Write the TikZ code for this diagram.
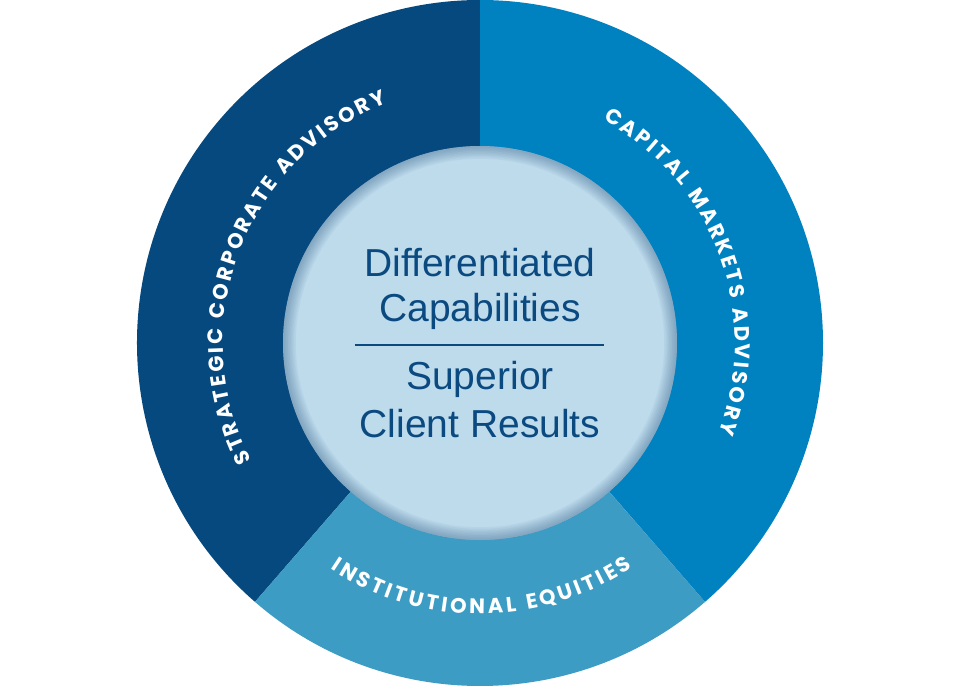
\documentclass[tikz,border=0pt]{standalone}
\usepackage{fontspec}
\setmainfont{Liberation Sans}
\newfontfamily\labfont{Poppins}
\usetikzlibrary{decorations.text}
\definecolor{segL}{HTML}{05497F}
\definecolor{segR}{HTML}{0082C1}
\definecolor{segB}{HTML}{3D9CC4}
\definecolor{innerC}{HTML}{BEDBEC}
\definecolor{txtC}{HTML}{0B4A80}
\definecolor{shadowC}{HTML}{1E4F7A}
\newcommand\labfmt{\labfont\bfseries\fontsize{21}{21}\selectfont\kern2.5pt}
\newcommand\labfmtwide{\labfont\bfseries\fontsize{21}{21}\selectfont\kern3.2pt}
\begin{document}
\begin{tikzpicture}[x=1pt,y=1pt,
  arclabel/.style={decorate, decoration={text along path, text align=center, text color=white, text={#1}}},
  centertext/.style={text=txtC, font=\fontsize{39}{46}\selectfont, inner sep=0pt, anchor=base},
]
\useasboundingbox (-480,-344) rectangle (480,343);
\fill[white] (-480,-344) rectangle (480,343);
\coordinate (O) at (0,0);
\fill[segL] (O) -- (229:343) arc[start angle=229, end angle=90, radius=343] -- cycle;
\fill[segR] (O) -- (90:343) arc[start angle=90, end angle=-49, radius=343] -- cycle;
\fill[segB] (O) -- (-49:343) arc[start angle=-49, end angle=-131, radius=343] -- cycle;
\fill[innerC] (O) circle[radius=197];
\foreach \k [evaluate=\k as \w using 1.6*\k] in {1,...,8}
  \draw[shadowC, opacity=0.05, line width=\w pt] (O) circle[radius=197-0.8*\k];
\node[centertext] (t1) at (0,66) {Differentiated};
\node[centertext] (t2) at (0,21) {Capabilities};
\node[centertext] (t3) at (0,-47) {Superior};
\node[centertext] (t4) at (0,-94) {Client Results};
\coordinate (l1) at (-125,-2);
\coordinate (l2) at (124,-2);
\draw[txtC, line width=1.6pt] (l1) -- (l2);
\path[arclabel={|\labfmt|STRATEGIC CORPORATE ADVISORY}]
  (229:257) arc[start angle=229, end angle=90, radius=257];
\path[arclabel={|\labfmt|CAPITAL MARKETS ADVISORY}]
  (90:255) arc[start angle=90, end angle=-49, radius=255];
\path[arclabel={|\labfmtwide|INSTITUTIONAL EQUITIES}]
  (229:271) arc[start angle=229, end angle=311, radius=271];
\end{tikzpicture}
\end{document}
